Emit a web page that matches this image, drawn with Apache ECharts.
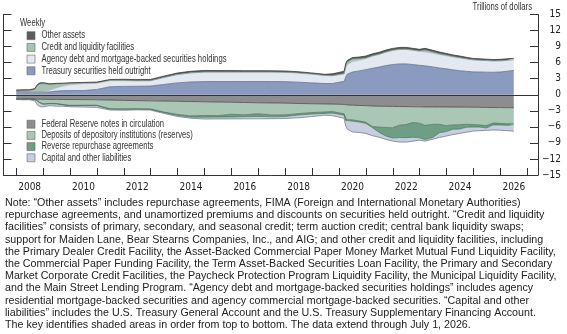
<!DOCTYPE html>
<html><head><meta charset="utf-8">
<script src="https://cdn.jsdelivr.net/npm/echarts@6/dist/echarts.min.js"></script>
<style>html,body{margin:0;padding:0;background:#fff}#c{width:567px;height:334px}</style>
</head><body><div id="c"></div>
<script>
// Weekly observation dates (sampled)
const dates = ['2008-01-02','2008-04-02','2008-07-02','2008-09-10','2008-10-15','2008-11-19','2008-12-31',
 '2009-04-01','2009-07-01','2009-09-30','2009-12-30','2010-06-30','2010-12-29','2011-06-29','2011-12-28',
 '2012-06-27','2012-12-26','2013-06-26','2013-12-25','2014-06-25','2014-12-31','2015-07-01','2015-12-30',
 '2016-06-29','2016-12-28','2017-06-28','2017-12-27','2018-06-27','2018-12-26','2019-06-26','2019-10-02',
 '2019-12-31','2020-03-11','2020-04-01','2020-04-22','2020-07-01','2020-09-30','2020-12-30','2021-03-31',
 '2021-06-30','2021-09-29','2021-12-29','2022-03-30','2022-06-29','2022-09-28','2022-12-28','2023-03-15',
 '2023-06-28','2023-09-27','2023-12-27','2024-03-27','2024-06-26','2024-09-25','2024-12-25','2025-03-26',
 '2025-06-25','2025-09-24','2025-12-31','2026-04-01','2026-07-01'];
// Assets (trillions of dollars)
const treasury = [0.74,0.59,0.48,0.48,0.48,0.48,0.48,0.53,0.68,0.77,0.78,0.78,0.98,1.50,1.56,1.58,1.62,1.92,2.21,2.39,2.46,2.46,2.46,2.46,2.46,2.46,2.45,2.35,2.22,2.09,2.10,2.33,2.50,3.30,3.85,4.25,4.45,4.69,4.95,5.17,5.45,5.65,5.76,5.77,5.65,5.50,5.40,5.20,5.00,4.85,4.65,4.50,4.38,4.27,4.25,4.22,4.20,4.25,4.40,4.55];
const agencyMbs = [0,0,0,0,0,0.01,0.05,0.30,0.60,0.85,1.07,1.27,1.15,1.12,1.06,1.00,0.98,1.28,1.55,1.68,1.77,1.77,1.77,1.77,1.77,1.77,1.75,1.72,1.64,1.52,1.45,1.43,1.40,1.60,1.75,1.90,2.00,2.04,2.25,2.35,2.50,2.62,2.70,2.71,2.67,2.64,2.60,2.55,2.50,2.43,2.38,2.34,2.29,2.24,2.20,2.16,2.12,2.08,2.04,2.00];
const creditFacilities = [0.05,0.20,0.33,0.55,1.25,1.55,1.55,1.10,0.75,0.45,0.30,0.15,0.12,0.10,0.07,0.05,0.04,0.03,0.02,0.02,0.01,0.01,0.01,0.01,0.01,0.01,0.01,0.01,0.01,0.01,0.01,0.01,0.05,0.50,0.50,0.55,0.30,0.15,0.10,0.07,0.05,0.04,0.03,0.03,0.03,0.03,0.35,0.25,0.18,0.15,0.13,0.12,0.06,0.01,0.01,0.01,0.01,0.01,0.01,0.01];
const otherAssets = [0.10,0.15,0.12,0.12,0.18,0.18,0.18,0.12,0.10,0.09,0.09,0.10,0.12,0.13,0.20,0.20,0.22,0.25,0.27,0.29,0.30,0.28,0.27,0.26,0.25,0.24,0.23,0.22,0.21,0.20,0.35,0.40,0.45,0.45,0.30,0.25,0.30,0.35,0.35,0.35,0.35,0.35,0.35,0.34,0.33,0.32,0.32,0.31,0.30,0.29,0.28,0.28,0.27,0.27,0.26,0.26,0.25,0.28,0.26,0.25];
// Liabilities (trillions of dollars, drawn below zero)
const frNotes = [0.79,0.79,0.80,0.81,0.83,0.84,0.85,0.87,0.87,0.88,0.89,0.91,0.94,0.99,1.05,1.10,1.14,1.18,1.22,1.26,1.32,1.36,1.40,1.45,1.50,1.53,1.57,1.63,1.68,1.72,1.74,1.78,1.81,1.88,1.90,1.95,2.00,2.04,2.10,2.15,2.16,2.18,2.20,2.22,2.24,2.26,2.27,2.28,2.28,2.29,2.30,2.31,2.32,2.33,2.35,2.37,2.39,2.40,2.42,2.43];
const reserves = [0.02,0.02,0.02,0.03,0.27,0.60,0.86,0.75,0.78,0.95,1.10,1.05,1.02,1.65,1.58,1.52,1.50,2.05,2.45,2.70,2.55,2.55,2.25,2.30,2.05,2.25,2.20,1.90,1.65,1.50,1.40,1.60,1.75,2.70,2.85,2.75,2.90,3.10,3.85,3.90,3.95,4.00,3.50,3.35,2.95,3.05,3.45,3.25,3.25,3.50,3.35,3.30,3.20,3.25,3.30,3.40,2.90,2.95,3.00,2.90];
const reverseRepo = [0.04,0.04,0.04,0.05,0.09,0.09,0.07,0.07,0.07,0.07,0.07,0.06,0.06,0.06,0.10,0.09,0.10,0.10,0.18,0.20,0.35,0.25,0.50,0.35,0.50,0.35,0.30,0.25,0.27,0.27,0.28,0.25,0.25,0.22,0.20,0.22,0.20,0.20,0.20,1.00,1.60,1.90,2.30,2.45,2.75,2.75,2.65,2.45,1.55,1.10,0.80,0.80,0.55,0.45,0.38,0.45,0.35,0.30,0.30,0.25];
const capitalOther = [0.05,0.09,0.07,0.26,0.72,0.69,0.48,0.36,0.41,0.26,0.18,0.28,0.35,0.15,0.16,0.12,0.12,0.15,0.20,0.22,0.32,0.36,0.36,0.40,0.44,0.35,0.37,0.52,0.48,0.33,0.49,0.54,0.59,1.05,1.45,2.03,1.95,1.89,1.50,0.89,0.64,0.58,0.84,0.83,0.74,0.43,0.30,0.33,0.90,0.83,0.99,0.83,0.93,0.76,0.69,0.43,0.94,0.97,0.99,1.23];

const tickYears = [2008,2009,2010,2011,2012,2013,2014,2015,2016,2017,2018,2019,2020,2021,2022,2023,2024,2025,2026,2027];
const labelYears = [2008,2010,2012,2014,2016,2018,2020,2022,2024,2026];

const assetKey = ['Other assets', 'Credit and liquidity facilities', 'Agency debt and mortgage-backed securities holdings', 'Treasury securities held outright'];
const liabKey = ['Federal Reserve notes in circulation', 'Deposits of depository institutions (reserves)', 'Reverse repurchase agreements', 'Capital and other liabilities'];

const noteLines = [
 'Note: \u201cOther assets\u201d includes repurchase agreements, FIMA (Foreign and International Monetary Authorities)',
 'repurchase agreements, and unamortized premiums and discounts on securities held outright. \u201cCredit and liquidity',
 'facilities\u201d consists of primary, secondary, and seasonal credit; term auction credit; central bank liquidity swaps;',
 'support for Maiden Lane, Bear Stearns Companies, Inc., and AIG; and other credit and liquidity facilities, including',
 'the Primary Dealer Credit Facility, the Asset-Backed Commercial Paper Money Market Mutual Fund Liquidity Facility,',
 'the Commercial Paper Funding Facility, the Term Asset-Backed Securities Loan Facility, the Primary and Secondary',
 'Market Corporate Credit Facilities, the Paycheck Protection Program Liquidity Facility, the Municipal Liquidity Facility,',
 'and the Main Street Lending Program. \u201cAgency debt and mortgage-backed securities holdings\u201d includes agency',
 'residential mortgage-backed securities and agency commercial mortgage-backed securities. \u201cCapital and other',
 'liabilities\u201d includes the U.S. Treasury General Account and the U.S. Treasury Supplementary Financing Account.',
 'The key identifies shaded areas in order from top to bottom. The data extend through July 1, 2026.'
];

const NARROW = '"Liberation Sans Narrow","DejaVu Sans Condensed","Liberation Sans",sans-serif';
const SANS = '"Liberation Sans",Arial,sans-serif';
const KEYFONT = '10px "Liberation Sans",Arial,sans-serif';

// horizontal compression so the key text matches the condensed face of the original
const mctx = document.createElement('canvas').getContext('2d');
mctx.font = KEYFONT;
const keyScale = 185 / mctx.measureText(assetKey[2]).width;

function ts(s){ const p=s.split('-'); return Date.UTC(+p[0], +p[1]-1, +p[2]); }
function pairs(arr, sign){ return dates.map((d,i)=>[ts(d), sign*arr[i]]); }
const T0 = Date.UTC(2007, 6, 13), T1 = Date.UTC(2027, 4, 26);
const YEAR_MS = 365.2425 * 86400000;
const yr = t => 1970 + t / YEAR_MS;

const defs = [
 ['Treasury securities held outright', treasury, 1, '#8b9bbf', '#5d6e96', 0.8],
 ['Agency debt and mortgage-backed securities holdings', agencyMbs, 1, '#e3e8f1', '#aab3c6', 0.5],
 ['Credit and liquidity facilities', creditFacilities, 1, '#a8c3b2', '#6f8c7b', 0.6],
 ['Other assets', otherAssets, 1, '#5c5c5c', '#3c3c3c', 0.8],
 ['Federal Reserve notes in circulation', frNotes, -1, '#8d8d8d', '#4a4a4a', 0.8],
 ['Deposits of depository institutions (reserves)', reserves, -1, '#aac7b6', '#4f6e5c', 0.7],
 ['Reverse repurchase agreements', reverseRepo, -1, '#6e9f84', '#3f6a52', 0.7],
 ['Capital and other liabilities', capitalOther, -1, '#c8cee2', '#777b88', 0.8]
];
const colorOf = {};
defs.forEach(d => colorOf[d[0]] = d[3]);

const series = defs.map(d => ({
  name: d[0], type: 'line', stack: 'bal', xAxisIndex: 0, yAxisIndex: 0, symbol: 'none', showSymbol: false,
  silent: true, animation: false, data: pairs(d[1], d[2]),
  itemStyle: { color: d[3] },
  lineStyle: { color: d[4], width: d[5] },
  areaStyle: { color: d[3], opacity: 1 }
}));
series.push({
  type: 'line', xAxisIndex: 0, yAxisIndex: 0, data: [], silent: true, z: 5,
  markLine: { symbol: 'none', silent: true, animation: false, label: { show: false },
    lineStyle: { color: '#333', width: 1, type: 'solid' }, data: [{ yAxis: 0 }] }
});

function keyItems(names, y0, step) {
  const out = [];
  names.forEach((n, i) => {
    const cy = y0 + step * i;
    out.push({ type: 'rect', shape: { x: 27, y: cy - 4, width: 8, height: 8 },
      style: { fill: colorOf[n], stroke: '#666', lineWidth: 0.6 }, silent: true });
    out.push({ type: 'text', x: 41.5, y: cy, scaleX: keyScale, silent: true,
      style: { text: n, fill: '#333', font: KEYFONT, textAlign: 'left', textVerticalAlign: 'middle' } });
  });
  return out;
}

const fmtY = v => v < 0 ? '\u2212' + (-v) : String(v);

const chart = echarts.init(document.getElementById('c'), null, { renderer: 'canvas' });
chart.setOption({
  animation: false,
  backgroundColor: '#fff',
  grid: { left: 3.5, right: 29, top: 14.5, bottom: 159, containLabel: false, outerBoundsMode: 'none' },
  xAxis: [
    { type: 'time', min: T0, max: T1, show: false },
    { type: 'value', min: yr(T0), max: yr(T1), position: 'bottom',
      axisLine: { show: true, onZero: false, lineStyle: { color: '#333', width: 1 } },
      axisTick: { show: true, inside: true, length: 7, lineStyle: { color: '#333', width: 1 },
        customValues: tickYears },
      axisLabel: { show: true, margin: 7, color: '#222', fontSize: 10, fontFamily: NARROW,
        customValues: labelYears.map(y => y + 0.5),
        formatter: v => String(Math.floor(v)) },
      splitLine: { show: false } }
  ],
  yAxis: [
    { type: 'value', position: 'right', min: -15, max: 15, interval: 3,
      axisLine: { show: true, onZero: false, lineStyle: { color: '#333', width: 1 } },
      axisTick: { show: true, inside: true, length: 8, lineStyle: { color: '#333' } },
      axisLabel: { show: true, align: 'right', margin: 23, color: '#222', fontSize: 10, fontFamily: NARROW, formatter: fmtY },
      splitLine: { show: false } },
    { type: 'value', position: 'left', min: -15, max: 15, interval: 3,
      axisLine: { show: true, onZero: false, lineStyle: { color: '#333', width: 1 } },
      axisTick: { show: true, inside: true, length: 8, lineStyle: { color: '#333' } },
      axisLabel: { show: false }, splitLine: { show: false } }
  ],
  graphic: [
    { type: 'text', x: 20, y: 23.3, scaleX: keyScale, silent: true,
      style: { text: 'Weekly', fill: '#333', font: KEYFONT, textAlign: 'left', textVerticalAlign: 'middle' } },
    { type: 'text', x: 532, y: 7, scaleX: keyScale, silent: true,
      style: { text: 'Trillions of dollars', fill: '#333', font: KEYFONT, textAlign: 'right', textVerticalAlign: 'middle' } }
  ].concat(keyItems(assetKey, 35.7, 11.7))
   .concat(keyItems(liabKey, 124.2, 11.2))
   .concat(noteLines.map((t, i) => ({
    type: 'text', x: 5, y: 203 + 12.2 * i, silent: true,
    style: { text: t, fill: '#222', font: '10.7px ' + SANS, textAlign: 'left', textVerticalAlign: 'middle' }
  }))),
  series: series
});
</script>
</body></html>
